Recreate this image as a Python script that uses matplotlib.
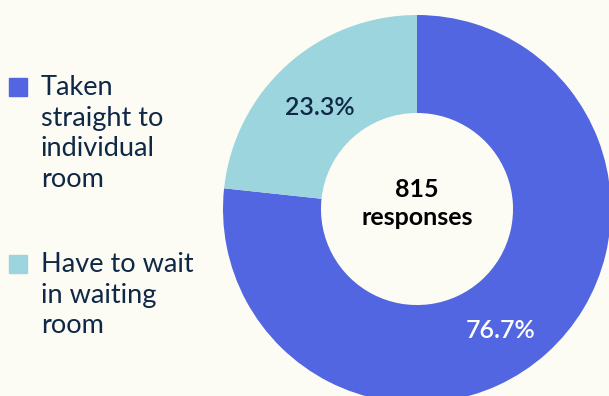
import matplotlib
matplotlib.use('Agg')
import matplotlib.pyplot as plt
from matplotlib.patches import Rectangle

# data
labels = ['Taken\nstraight to\nindividual\nroom', 'Have to wait\nin waiting\nroom']
shares = [76.7, 23.3]
colors = ['#5166E0', '#9DD5DE']
pct_colors = ['white', '#0F2846']
total = 815

bg = '#FCFBF4'
ink = '#0F2846'
plt.rcParams['font.family'] = ['Lato', 'DejaVu Sans']

fig = plt.figure(figsize=(6.09, 3.96), dpi=100, facecolor=bg)
# donut axes, bigger than the figure so the ring gets clipped at right/bottom
ax = fig.add_axes([223/609, -7/396, 388/609, 388/396])
ax.set_facecolor(bg)
wedges, texts, autotexts = ax.pie(shares, colors=colors, startangle=90, counterclock=False,
                                  radius=1, wedgeprops=dict(width=0.505, linewidth=0),
                                  autopct='%.1f%%', pctdistance=0.75,
                                  textprops=dict(fontsize=18, fontweight='semibold'))
for t, c in zip(autotexts, pct_colors):
    t.set_color(c)
# nudge labels a bit like in the original
x, y = autotexts[0].get_position()
autotexts[0].set_position((x - 0.07, y - 0.07))
x, y = autotexts[1].get_position()
autotexts[1].set_position((x, y - 0.035))
ax.text(0, 0.062, str(total), ha='center', va='baseline', fontsize=18, fontweight='bold', color='black')
ax.text(0, -0.082, 'responses', ha='center', va='baseline', fontsize=18, fontweight='bold', color='black')
ax.set_xlim(-1, 1)
ax.set_ylim(-1, 1)
ax.set_aspect('equal')
ax.axis('off')

# legend drawn by hand
baselines = [95, 272]
for lab, col, base in zip(labels, colors, baselines):
    fig.patches.append(Rectangle((9/609, 1 - (base + 1)/396), 18/609, 18/396,
                                 transform=fig.transFigure, color=col))
    fig.text(41/609, 1 - (base - 20)/396, lab, ha='left', va='top', fontsize=19.5,
             color=ink, linespacing=1.28)

fig.savefig('out.png', dpi=100, facecolor=bg)
